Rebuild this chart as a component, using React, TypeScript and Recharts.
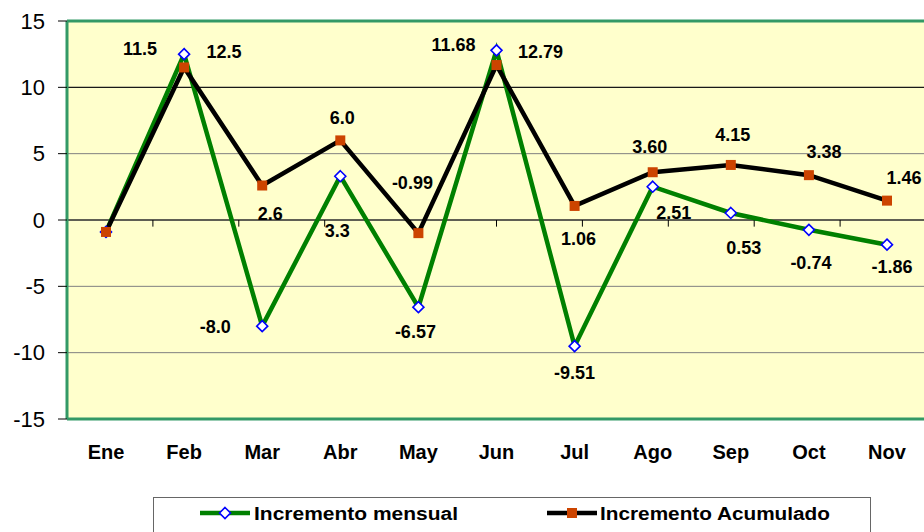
import React from 'react';
import { ComposedChart, Line, XAxis, YAxis, CartesianGrid, ReferenceLine } from 'recharts';

const months = ['Ene', 'Feb', 'Mar', 'Abr', 'May', 'Jun', 'Jul', 'Ago', 'Sep', 'Oct', 'Nov'];
const incrementoMensual = [-0.9, 12.5, -8.0, 3.3, -6.57, 12.79, -9.51, 2.51, 0.53, -0.74, -1.86];
const incrementoAcumulado = [-0.9, 11.5, 2.6, 6.0, -0.99, 11.68, 1.06, 3.6, 4.15, 3.38, 1.46];
const mensualLabels = ['', '12.5', '-8.0', '3.3', '-6.57', '12.79', '-9.51', '2.51', '0.53', '-0.74', '-1.86'];
const acumuladoLabels = ['', '11.5', '2.6', '6.0', '-0.99', '11.68', '1.06', '3.60', '4.15', '3.38', '1.46'];
const yTicks = [-15, -10, -5, 0, 5, 10, 15];
const boundaries = [1, 2, 3, 4, 5, 6, 7, 8, 9, 10];
const seriesNames = ['Incremento mensual', 'Incremento Acumulado'];

// where excel left each data label, relative to its point (px)
const mensualOffsets: [number, number][] = [
  [0, 0], [40, -2], [-47, 1], [-3, 55], [-3, 25], [44, 2], [0, 27], [21, 26], [13, 35], [2, 33], [5, 22],
];
const acumuladoOffsets: [number, number][] = [
  [0, 0], [-44, -18], [8, 28], [2, -22], [-6, -50], [-43, -20], [4, 33], [-3, -25], [2, -30], [15, -23], [17, -23],
];

const data = months.map((m, i) => ({
  month: m,
  mensual: incrementoMensual[i],
  acumulado: incrementoAcumulado[i],
}));

const FONT = 'Liberation Sans, Arial, sans-serif';
const GREEN = '#008000';
const BORDER = '#339966';
const ORANGE = '#CC4400';

const Diamond = ({ cx, cy }: { cx: number; cy: number }) => (
  <path
    d={`M${cx},${cy - 5.5} L${cx + 5.5},${cy} L${cx},${cy + 5.5} L${cx - 5.5},${cy} Z`}
    fill="#fff"
    stroke="#0000ff"
    strokeWidth={1.6}
  />
);

const Square = ({ cx, cy }: { cx: number; cy: number }) => (
  <rect x={cx - 5} y={cy - 5} width={10} height={10} fill={ORANGE} />
);

const makeLabel = (texts: string[], offsets: [number, number][]) => (props: any) => {
  const { x, y, index } = props;
  const t = texts[index];
  if (!t) return <g key={index} />;
  const [dx, dy] = offsets[index];
  return (
    <text
      key={index}
      x={x + dx}
      y={y + dy}
      textAnchor="middle"
      dominantBaseline="central"
      fontFamily={FONT}
      fontWeight="bold"
      fontSize={18}
      fill="#000"
    >
      {t}
    </text>
  );
};

const App = () => {
  return (
    <div style={{ position: 'absolute', left: 0, top: 0, width: 924, height: 532, overflow: 'hidden', background: '#fff' }}>
      <ComposedChart width={926} height={532} data={data} margin={{ top: 21, right: 0, left: 0, bottom: 0 }}>
        <CartesianGrid horizontal vertical={false} stroke="#808080" fill="#FFFFCC" fillOpacity={1} />
        <XAxis
          dataKey="month"
          height={113}
          padding={{ left: 39, right: 39 }}
          tickLine={false}
          tickSize={0}
          tickMargin={26}
          axisLine={{ stroke: BORDER, strokeWidth: 3 }}
          tick={{ fontSize: 20, fontWeight: 'bold', fill: '#000', fontFamily: FONT }}
        />
        <XAxis xAxisId="n" type="number" domain={[0, 11]} hide />
        <YAxis
          width={67}
          domain={[-15, 15]}
          ticks={yTicks}
          interval={0}
          tickSize={9}
          tickMargin={13}
          axisLine={{ stroke: BORDER, strokeWidth: 3 }}
          tickLine={{ stroke: '#000' }}
          tick={{ fontSize: 22, fill: '#000', fontFamily: FONT }}
        />
        <ReferenceLine y={10} stroke="#000" strokeWidth={1} />
        <ReferenceLine y={0} stroke="#000" strokeWidth={1} />
        <ReferenceLine y={15} stroke={BORDER} strokeWidth={3} />
        {boundaries.map((b) => (
          <ReferenceLine
            key={b}
            xAxisId="n"
            segment={[{ x: b, y: 0 }, { x: b, y: -0.5 }]}
            stroke="#000"
            strokeWidth={1}
          />
        ))}
        <Line
          dataKey="mensual"
          name={seriesNames[0]}
          stroke={GREEN}
          strokeWidth={4.5}
          isAnimationActive={false}
          dot={(p: any) => <Diamond key={p.index} cx={p.cx} cy={p.cy} />}
          activeDot={false}
          label={makeLabel(mensualLabels, mensualOffsets)}
        />
        <Line
          dataKey="acumulado"
          name={seriesNames[1]}
          stroke="#000"
          strokeWidth={4.5}
          isAnimationActive={false}
          dot={(p: any) => <Square key={p.index} cx={p.cx} cy={p.cy} />}
          activeDot={false}
          label={makeLabel(acumuladoLabels, acumuladoOffsets)}
        />
      </ComposedChart>
      <svg width={924} height={532} style={{ position: 'absolute', left: 0, top: 0, pointerEvents: 'none' }}>
        <rect x={153.5} y={497.5} width={717} height={60} fill="#fff" stroke="#666" strokeWidth={1} />
        <line x1={200} y1={513} x2={250} y2={513} stroke={GREEN} strokeWidth={4.5} />
        <Diamond cx={225} cy={513} />
        <text x={254} y={514} dominantBaseline="central" fontFamily={FONT} fontWeight="bold" fontSize={18}
          textLength={204} lengthAdjust="spacingAndGlyphs" fill="#000">
          {seriesNames[0]}
        </text>
        <line x1={547} y1={513} x2={597} y2={513} stroke="#000" strokeWidth={4.5} />
        <Square cx={572} cy={513} />
        <text x={600} y={514} dominantBaseline="central" fontFamily={FONT} fontWeight="bold" fontSize={18}
          textLength={230} lengthAdjust="spacingAndGlyphs" fill="#000">
          {seriesNames[1]}
        </text>
      </svg>
    </div>
  );
};

export default App;
